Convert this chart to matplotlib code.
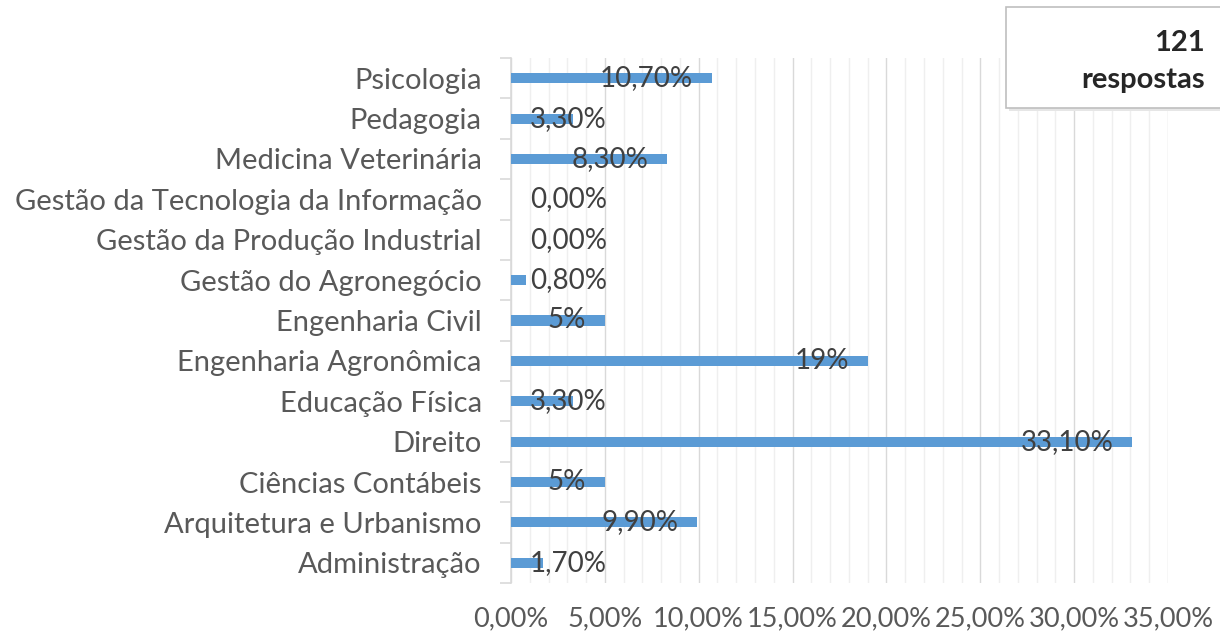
import matplotlib
matplotlib.use("Agg")
import matplotlib.pyplot as plt
from matplotlib.patches import Rectangle
from matplotlib.ticker import MultipleLocator, FixedLocator

# Dados do gráfico (de cima para baixo)
cursos = ['Psicologia', 'Pedagogia', 'Medicina Veterinária',
          'Gestão da Tecnologia da Informação', 'Gestão da Produção Industrial',
          'Gestão do Agronegócio', 'Engenharia Civil', 'Engenharia Agronômica',
          'Educação Física', 'Direito', 'Ciências Contábeis',
          'Arquitetura e Urbanismo', 'Administração']
percentuais = [10.7, 3.3, 8.3, 0.0, 0.0, 0.8, 5.0, 19.0, 3.3, 33.1, 5.0, 9.9, 1.7]
rotulos = ['10,70%', '3,30%', '8,30%', '0,00%', '0,00%', '0,80%', '5%', '19%',
           '3,30%', '33,10%', '5%', '9,90%', '1,70%']
x_ticks = [0, 5, 10, 15, 20, 25, 30, 35]
x_tick_labels = ['0,00%', '5,00%', '10,00%', '15,00%', '20,00%', '25,00%',
                 '30,00%', '35,00%']

plt.rcParams['font.family'] = ['Lato', 'DejaVu Sans']

W, H = 1220, 634
fig = plt.figure(figsize=(W / 100, H / 100), dpi=100)
ax = fig.add_axes([511 / W, 1 - 583 / H, (1168 - 511) / W, (583 - 58) / H])

y = list(range(len(cursos)))
ax.barh(y, percentuais, height=0.25, color='#5b9bd5', zorder=3)
ax.set_ylim(len(cursos) - 0.5, -0.5)
ax.set_xlim(0, 35)

# Rótulos de dados
for i, (v, txt) in enumerate(zip(percentuais, rotulos)):
    if v >= 5:
        ax.text(v - 1.0, i, txt, ha='right', va='center', fontsize=20,
                color='#404040', zorder=4)
    else:
        ax.text(1.0, i, txt, ha='left', va='center', fontsize=20,
                color='#404040', zorder=4)

# Grade
ax.xaxis.set_major_locator(FixedLocator(x_ticks))
ax.xaxis.set_minor_locator(MultipleLocator(1))
ax.set_xticklabels(x_tick_labels, fontsize=19.5, color='#595959')
ax.grid(axis='x', which='major', color='#d9d9d9', linewidth=1.0, zorder=1)
ax.grid(axis='x', which='minor', color='#efefef', linewidth=1.0, zorder=0)
ax.tick_params(axis='x', which='both', length=0, pad=17)

ax.set_yticks(y)
ax.set_yticklabels(cursos, fontsize=21, color='#595959')
ax.yaxis.set_minor_locator(FixedLocator([i - 0.5 for i in range(len(cursos) + 1)]))
ax.tick_params(axis='y', which='major', length=0, pad=21)
ax.tick_params(axis='y', which='minor', length=8, color='#d9d9d9', width=1.2)

for s in ['top', 'right', 'bottom']:
    ax.spines[s].set_visible(False)
ax.spines['left'].set_color('#d9d9d9')
ax.spines['left'].set_linewidth(1.2)

# Caixa com o total de respostas
sombra = Rectangle((1009 / W, 1 - 111 / H), 230 / W, 101 / H,
                   transform=fig.transFigure, facecolor='#e6e6e6',
                   edgecolor='none', zorder=5)
caixa = Rectangle((1006 / W, 1 - 108 / H), 230 / W, 101 / H,
                  transform=fig.transFigure, facecolor='white',
                  edgecolor='#bfbfbf', linewidth=1.2, zorder=6)
fig.add_artist(sombra)
fig.add_artist(caixa)
fig.text(1205 / W, 1 - 43 / H, '121', ha='right', va='center',
         fontsize=21, fontweight='bold', color='#262626', zorder=7)
fig.text(1205 / W, 1 - 80 / H, 'respostas', ha='right', va='center',
         fontsize=21, fontweight='bold', color='#262626', zorder=7)

fig.savefig('out.png', dpi=100)
